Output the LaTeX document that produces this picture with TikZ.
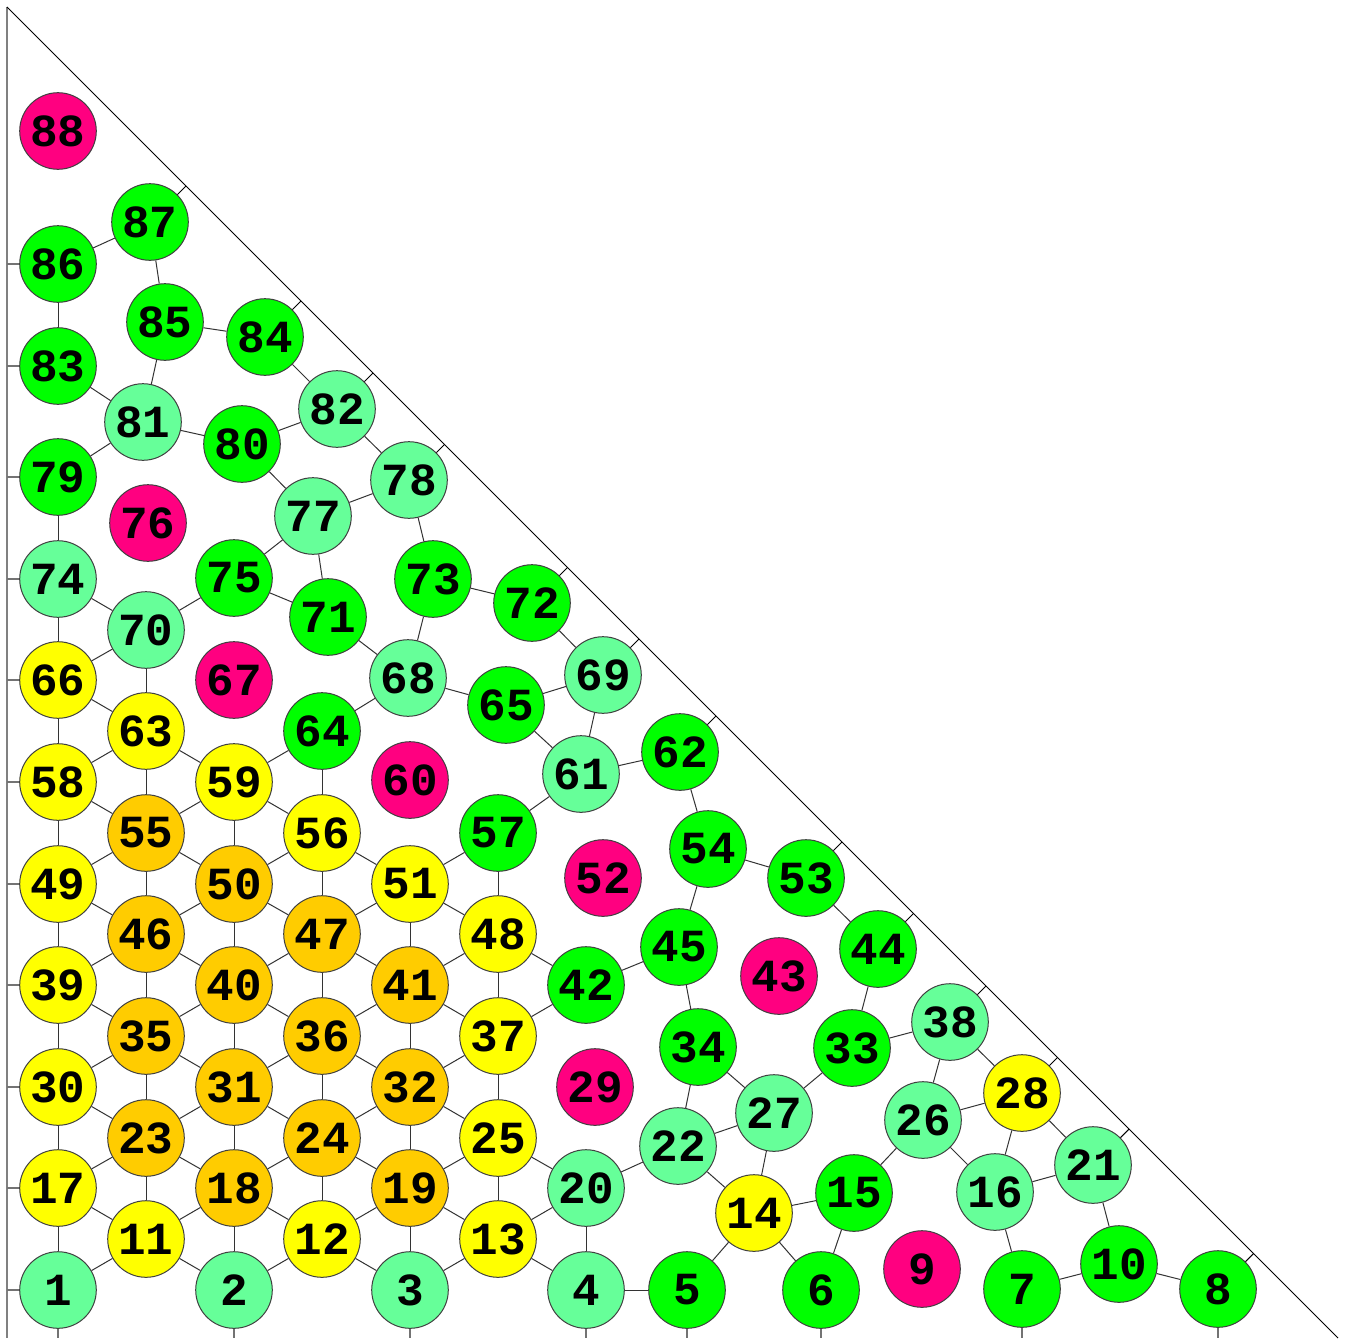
\documentclass[tikz,border=0pt]{standalone}
\usepackage{fontspec}
\setmonofont{Liberation Mono}
\usetikzlibrary{calc}
\definecolor{cmint}{HTML}{66FF99}
\definecolor{cgrn}{HTML}{00FF00}
\definecolor{cyel}{HTML}{FFFF00}
\definecolor{corg}{HTML}{FFCC00}
\definecolor{cmag}{HTML}{FF0080}
\begin{document}
\begin{tikzpicture}[x=0.5pt,y=-0.5pt,
  ball/.style={circle,draw=black!75,line width=0.5pt,minimum size=38.3pt,inner sep=0pt,
    font=\ttfamily\bfseries\fontsize{23}{23}\selectfont},
  mint/.style={ball,fill=cmint},
  grn/.style={ball,fill=cgrn},
  yel/.style={ball,fill=cyel},
  org/.style={ball,fill=corg},
  mag/.style={ball,fill=cmag},
  link/.style={draw=black!80,line width=0.5pt},
  axisline/.style={draw=black!50,line width=1.2pt},
  gtick/.style={draw=black!55,line width=0.7pt},
  dtick/.style={draw=black,line width=0.5pt},
  diagline/.style={draw=black,line width=0.5pt}]
\useasboundingbox (0,0) rectangle (1347,1338);
\fill[white] (0,0) rectangle (1347,1338);
\coordinate (dA) at (7,7);
\coordinate (dB) at (1338,1338);
\coordinate (axT) at (7,7);
\coordinate (axB) at (7,1338);
\coordinate (bot) at (0,1338);
\draw[axisline] (axT) -- (axB);
\draw[diagline] (dA) -- (dB);

\node[mint] (n1) at (58,1290) {1};
\node[mint] (n2) at (234,1290) {2};
\node[mint] (n3) at (410,1290) {3};
\node[mint] (n4) at (586,1290) {4};
\node[grn] (n5) at (687,1290) {5};
\node[grn] (n6) at (821,1290) {6};
\node[grn] (n7) at (1022,1289) {7};
\node[grn] (n8) at (1218,1289) {8};
\node[mag] (n9) at (922,1269) {9};
\node[grn] (n10) at (1119,1264) {10};
\node[yel] (n11) at (146,1239) {11};
\node[yel] (n12) at (322,1239) {12};
\node[yel] (n13) at (498,1239) {13};
\node[yel] (n14) at (754,1213) {14};
\node[grn] (n15) at (854,1193) {15};
\node[mint] (n16) at (995,1192) {16};
\node[yel] (n17) at (58,1188) {17};
\node[org] (n18) at (234,1188) {18};
\node[org] (n19) at (410,1188) {19};
\node[mint] (n20) at (586,1188) {20};
\node[mint] (n21) at (1093,1165) {21};
\node[mint] (n22) at (678,1146) {22};
\node[org] (n23) at (146,1138) {23};
\node[org] (n24) at (322,1138) {24};
\node[yel] (n25) at (498,1138) {25};
\node[mint] (n26) at (923,1120) {26};
\node[mint] (n27) at (774,1113) {27};
\node[yel] (n28) at (1022,1093) {28};
\node[mag] (n29) at (595,1087) {29};
\node[yel] (n30) at (58,1087) {30};
\node[org] (n31) at (234,1087) {31};
\node[org] (n32) at (410,1087) {32};
\node[grn] (n33) at (852,1048) {33};
\node[grn] (n34) at (698,1047) {34};
\node[org] (n35) at (146,1036) {35};
\node[org] (n36) at (322,1036) {36};
\node[yel] (n37) at (498,1036) {37};
\node[mint] (n38) at (950,1022) {38};
\node[yel] (n39) at (58,985) {39};
\node[org] (n40) at (234,985) {40};
\node[org] (n41) at (410,985) {41};
\node[grn] (n42) at (586,985) {42};
\node[mag] (n43) at (779,976) {43};
\node[grn] (n44) at (878,949) {44};
\node[grn] (n45) at (679,947) {45};
\node[org] (n46) at (146,934) {46};
\node[org] (n47) at (322,934) {47};
\node[yel] (n48) at (498,934) {48};
\node[yel] (n49) at (58,884) {49};
\node[org] (n50) at (234,884) {50};
\node[yel] (n51) at (410,884) {51};
\node[mag] (n52) at (603,878) {52};
\node[grn] (n53) at (806,878) {53};
\node[grn] (n54) at (708,849) {54};
\node[org] (n55) at (146,833) {55};
\node[yel] (n56) at (322,833) {56};
\node[grn] (n57) at (498,833) {57};
\node[yel] (n58) at (58,782) {58};
\node[yel] (n59) at (234,782) {59};
\node[mag] (n60) at (410,780) {60};
\node[mint] (n61) at (581,774) {61};
\node[grn] (n62) at (680,752) {62};
\node[yel] (n63) at (146,731) {63};
\node[grn] (n64) at (322,731) {64};
\node[grn] (n65) at (506,705) {65};
\node[yel] (n66) at (58,680) {66};
\node[mag] (n67) at (234,680) {67};
\node[mint] (n68) at (408,678) {68};
\node[mint] (n69) at (603,675) {69};
\node[mint] (n70) at (146,630) {70};
\node[grn] (n71) at (328,617) {71};
\node[grn] (n72) at (532,603) {72};
\node[grn] (n73) at (433,579) {73};
\node[mint] (n74) at (58,579) {74};
\node[grn] (n75) at (234,578) {75};
\node[mag] (n76) at (148,523) {76};
\node[mint] (n77) at (313,516) {77};
\node[mint] (n78) at (409,480) {78};
\node[grn] (n79) at (58,477) {79};
\node[grn] (n80) at (242,444) {80};
\node[mint] (n81) at (143,422) {81};
\node[mint] (n82) at (337,409) {82};
\node[grn] (n83) at (58,366) {83};
\node[grn] (n84) at (265,337) {84};
\node[grn] (n85) at (165,322) {85};
\node[grn] (n86) at (58,264) {86};
\node[grn] (n87) at (150,222) {87};
\node[mag] (n88) at (58,131) {88};

\foreach \a/\b in {1/17,1/11,11/17,11/2,11/23,11/18,17/23,17/30,2/18,2/12,12/18,12/24,12/3,12/19,
  3/19,3/13,13/19,13/25,13/20,13/4,4/20,4/5,5/14,14/6,14/15,14/22,14/27,15/6,15/26,
  18/23,18/24,18/31,19/24,19/25,19/32,20/25,20/22,22/27,22/34,27/34,27/33,
  23/30,23/31,23/35,24/31,24/32,24/36,25/32,25/37,30/35,30/39,31/35,31/36,31/40,
  32/36,32/37,32/41,35/39,35/40,35/46,36/40,36/41,36/47,37/41,37/42,37/48,
  39/46,39/49,40/46,40/47,40/50,41/47,41/48,41/51,46/49,46/50,46/55,47/50,47/51,47/56,
  48/51,48/42,48/57,49/55,49/58,50/55,50/56,50/59,51/56,51/57,55/58,55/59,55/63,
  56/59,56/64,57/61,58/63,58/66,59/63,59/64,63/66,63/70,64/68,66/70,66/74,70/74,70/75,
  75/77,75/71,71/77,71/68,68/73,68/65,65/61,65/69,61/69,61/62,62/54,54/45,54/53,53/44,
  44/33,33/38,38/26,38/28,26/28,26/16,28/16,28/21,16/21,16/7,21/10,7/10,10/8,34/45,45/42,
  73/72,73/78,72/69,77/78,77/80,80/81,80/82,82/78,82/84,84/85,85/81,85/87,87/86,86/83,
  83/81,81/79,79/74}
  \draw[link] (n\a) -- (n\b);

\foreach \n in {87,84,82,78,72,69,62,53,44,38,28,21,8} {
  \coordinate (t\n) at ($(dA)!(n\n)!(dB)$);
  \draw[dtick] (n\n) -- (t\n);
}
\foreach \n in {86,83,79,74,66,58,49,39,30,17,1}
  \draw[gtick] (n\n) -- (n\n -| axT);
\foreach \n in {1,2,3,4,5,6,7,8}
  \draw[gtick] (n\n) -- (n\n |- bot);
\end{tikzpicture}
\end{document}
